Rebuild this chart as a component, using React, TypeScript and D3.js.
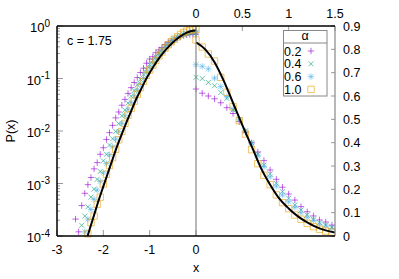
import * as d3 from 'd3';

// bin centres (left panel: x<0 on log axis, right panel: x>0 on linear axis)
const xLeft = [0, -0.067, -0.133, -0.2, -0.267, -0.333, -0.4, -0.467, -0.533, -0.6, -0.667, -0.733, -0.8, -0.867, -0.933, -1.0, -1.067, -1.133, -1.2, -1.267, -1.333, -1.4, -1.467, -1.533, -1.6, -1.667, -1.733, -1.8, -1.867, -1.933, -2.0, -2.067, -2.133, -2.2, -2.267, -2.333, -2.4, -2.467, -2.533, -2.6];
const xRight = [0, 0.067, 0.133, 0.2, 0.267, 0.333, 0.4, 0.467, 0.533, 0.6, 0.667, 0.733, 0.8, 0.867, 0.933, 1.0, 1.067, 1.133, 1.2, 1.267, 1.333, 1.4, 1.467];

// alpha = 0.2
const purpleLeft = [0.70, 0.70, 0.69, 0.68, 0.66, 0.63, 0.60, 0.56, 0.52, 0.48, 0.44, 0.39, 0.35, 0.31, 0.26, 0.235, 0.195, 0.157, 0.13, 0.104, 0.084, 0.067, 0.052, 0.040, 0.031, 0.023, 0.0178, 0.0128, 0.0093, 0.0069, 0.0048, 0.0036, 0.0025, 0.0019, 0.0013, 0.00095, 0.00065, 0.00038, 0.00012, 0.00021];
const purpleRight = [0.63, 0.612, 0.60, 0.588, 0.571, 0.55, 0.525, 0.49, 0.445, 0.40, 0.36, 0.323, 0.283, 0.243, 0.209, 0.18, 0.154, 0.126, 0.104, 0.086, 0.069, 0.06, 0.047];
// alpha = 0.4
const greenLeft = [0.74, 0.74, 0.73, 0.71, 0.68, 0.66, 0.62, 0.57, 0.52, 0.46, 0.41, 0.357, 0.305, 0.26, 0.22, 0.185, 0.15, 0.12, 0.096, 0.076, 0.059, 0.046, 0.034, 0.025, 0.0195, 0.0138, 0.0098, 0.0071, 0.0054, 0.0036, 0.0027, 0.0017, 0.0012, 0.00078, 0.00055, 0.00036, 0.00024, 0.00016, null, null];
const greenRight = [0.68, 0.675, 0.658, 0.644, 0.615, 0.59, 0.54, 0.50, 0.45, 0.40, 0.351, 0.304, 0.266, 0.226, 0.19, 0.162, 0.133, 0.111, 0.09, 0.072, 0.057, 0.047, 0.037];
// alpha = 0.6
const blueLeft = [0.77, 0.77, 0.76, 0.74, 0.70, 0.65, 0.61, 0.55, 0.49, 0.435, 0.38, 0.33, 0.28, 0.235, 0.195, 0.16, 0.13, 0.10, 0.079, 0.061, 0.047, 0.035, 0.026, 0.0195, 0.014, 0.0098, 0.0070, 0.0050, 0.0035, 0.0024, 0.0016, 0.0011, 0.00075, 0.0005, 0.00032, 0.00021, 0.00012, null, null, null];
const blueRight = [0.734, 0.727, 0.716, 0.677, 0.64, 0.597, 0.545, 0.50, 0.45, 0.395, 0.343, 0.297, 0.254, 0.214, 0.176, 0.147, 0.123, 0.10, 0.08, 0.066, 0.051, 0.043, 0.033];
// alpha = 1.0
const orangeLeft = [0.86, 0.85, 0.83, 0.80, 0.75, 0.69, 0.62, 0.56, 0.50, 0.44, 0.38, 0.32, 0.27, 0.22, 0.18, 0.145, 0.115, 0.088, 0.067, 0.05, 0.037, 0.027, 0.02, 0.014, 0.0098, 0.0068, 0.0045, 0.0031, 0.0022, 0.0015, 0.00098, 0.00055, 0.0004, 0.00024, 0.00018, 0.00011, null, null, null, null];
const orangeRight = [0.84, 0.81, 0.78, 0.75, 0.68, 0.616, 0.554, 0.494, 0.437, 0.37, 0.31, 0.26, 0.22, 0.176, 0.143, 0.117, 0.09, 0.072, 0.054, 0.04, 0.029, 0.021, 0.017];

// theory curve
const curveLeftX = [-2.45, -2.4, -2.3, -2.2, -2.1, -2.0, -1.9, -1.8, -1.7, -1.6, -1.5, -1.4, -1.3, -1.2, -1.1, -1.0, -0.9, -0.8, -0.7, -0.6, -0.5, -0.4, -0.3, -0.2, -0.1, 0];
const curveLeftP = [4.6e-5, 6.6e-5, 1.3e-4, 2.5e-4, 4.8e-4, 8.8e-4, 1.6e-3, 2.9e-3, 5.2e-3, 8.8e-3, 0.0147, 0.024, 0.039, 0.059, 0.089, 0.128, 0.179, 0.242, 0.315, 0.395, 0.485, 0.578, 0.667, 0.745, 0.80, 0.83];
const curveRightX = [0, 0.1, 0.2, 0.3, 0.4, 0.5, 0.6, 0.7, 0.8, 0.9, 1.0, 1.1, 1.2, 1.3, 1.4, 1.5];
const curveRightP = [0.83, 0.80, 0.745, 0.665, 0.57, 0.475, 0.385, 0.292, 0.22, 0.16, 0.118, 0.084, 0.058, 0.038, 0.024, 0.015];

const alphaLabels = ['0.2', '0.4', '0.6', '1.0'];
const colors = ['#9400d3', '#009e73', '#56b4e9', '#e69f00'];
const markerKinds = ['plus', 'cross', 'star', 'square'];
const leftSeries = [purpleLeft, greenLeft, blueLeft, orangeLeft];
const rightSeries = [purpleRight, greenRight, blueRight, orangeRight];

const logTicks = [1e-4, 1e-3, 1e-2, 1e-1, 1];
const logExp = ['-4', '-3', '-2', '-1', '0'];
const linTicks = [0, 0.1, 0.2, 0.3, 0.4, 0.5, 0.6, 0.7, 0.8, 0.9];
const bottomTicks = [-3, -2, -1, 0];
const topTicks = [0, 0.5, 1, 1.5];

const W = 399;
const H = 279;
const left = 57;
const mid = 196;
const right = 335;
const top = 26;
const bottom = 236;
const font = "'Liberation Sans', Arial, sans-serif";

function Marker({ kind, x, y, color }: { kind: string; x: number; y: number; color: string }) {
  const s = 3.2;
  const c = 2.5;
  let d = '';
  if (kind === 'plus') d = `M${x - s},${y}H${x + s}M${x},${y - s}V${y + s}`;
  if (kind === 'cross') d = `M${x - c},${y - c}L${x + c},${y + c}M${x - c},${y + c}L${x + c},${y - c}`;
  if (kind === 'star')
    d = `M${x - s},${y}H${x + s}M${x},${y - s}V${y + s}M${x - c},${y - c}L${x + c},${y + c}M${x - c},${y + c}L${x + c},${y - c}`;
  if (kind === 'square') d = `M${x - 3.2},${y - 3.2}h6.4v6.4h-6.4Z`;
  return <path d={d} fill="none" stroke={color} strokeOpacity={0.6} strokeWidth={1} />;
}

export default function App() {
  const xL = d3.scaleLinear().domain([-3, 0]).range([left, mid]);
  const xR = d3.scaleLinear().domain([0, 1.5]).range([mid, right]);
  const yL = d3.scaleLog().domain([1e-4, 1]).range([bottom, top]);
  const yR = d3.scaleLinear().domain([0, 0.9]).range([bottom, top]);

  const lineL = d3
    .line<number>()
    .x((d, i) => xL(curveLeftX[i]))
    .y((d) => yL(d))
    .curve(d3.curveMonotoneX);
  const lineR = d3
    .line<number>()
    .x((d, i) => xR(curveRightX[i]))
    .y((d) => yR(d))
    .curve(d3.curveMonotoneX);

  // minor ticks 2..9 in each decade
  const minor: number[] = [];
  logTicks.slice(0, 4).forEach((t) => {
    for (let m = 2; m <= 9; m++) minor.push(t * m);
  });

  const tickColor = '#999';

  return (
    <svg width={W} height={H} style={{ position: 'absolute', left: 0, top: 0, background: '#fff' }} fontFamily={font}>
      <defs>
        <clipPath id="clipL">
          <rect x={left} y={top} width={mid - left} height={bottom - top} />
        </clipPath>
        <clipPath id="clipR">
          <rect x={mid} y={top} width={right - mid} height={bottom - top} />
        </clipPath>
      </defs>

      {/* ticks */}
      {logTicks.map((t) => (
        <line key={'lt' + t} x1={left} x2={left + 6} y1={yL(t)} y2={yL(t)} stroke={tickColor} />
      ))}
      {minor.map((t) => (
        <line key={'mt' + t} x1={left} x2={left + 3} y1={yL(t)} y2={yL(t)} stroke={tickColor} />
      ))}
      {linTicks.map((t) => (
        <line key={'rt' + t} x1={right - 4} x2={right} y1={yR(t)} y2={yR(t)} stroke={tickColor} />
      ))}
      {bottomTicks.map((t) => (
        <line key={'bt' + t} x1={xL(t)} x2={xL(t)} y1={bottom} y2={bottom - 6} stroke={tickColor} />
      ))}
      {topTicks.map((t) => (
        <line key={'tt' + t} x1={xR(t)} x2={xR(t)} y1={top} y2={top + 5} stroke={tickColor} />
      ))}

      {/* data points */}
      {leftSeries.map((s, si) =>
        s.map((v, i) =>
          v == null || v < 1e-4 ? null : (
            <Marker key={`l${si}-${i}`} kind={markerKinds[si]} x={xL(xLeft[i])} y={yL(v)} color={colors[si]} />
          )
        )
      )}
      {rightSeries.map((s, si) =>
        s.map((v, i) => (
          <Marker key={`r${si}-${i}`} kind={markerKinds[si]} x={xR(xRight[i])} y={yR(v)} color={colors[si]} />
        ))
      )}

      {/* theory */}
      <path d={lineL(curveLeftP) || ''} fill="none" stroke="#000" strokeWidth={2} clipPath="url(#clipL)" />
      <path d={lineR(curveRightP) || ''} fill="none" stroke="#000" strokeWidth={2} clipPath="url(#clipR)" />

      {/* frame */}
      <line x1={mid} x2={mid} y1={top} y2={bottom} stroke="#888" strokeWidth={1.2} />
      <line x1={right} x2={right} y1={top} y2={bottom} stroke="#888" strokeWidth={1.2} />
      <line x1={left} x2={left} y1={top} y2={bottom} stroke="#000" strokeWidth={1.5} />
      <line x1={left} x2={right} y1={top} y2={top} stroke="#000" strokeWidth={1.5} />
      <line x1={left} x2={right} y1={bottom} y2={bottom} stroke="#000" strokeWidth={1.5} />

      {/* tick labels */}
      {logTicks.map((t, i) => (
        <text key={'ll' + t} x={50} y={yL(t) + 6} textAnchor="end" fontSize={13}>
          <tspan>10</tspan>
          <tspan dy={-5.5} fontSize={10}>
            {logExp[i]}
          </tspan>
        </text>
      ))}
      {linTicks.map((t) => (
        <text key={'rl' + t} x={343} y={yR(t) + 4.5} fontSize={12.5}>
          {t === 0 ? '0' : t.toFixed(1)}
        </text>
      ))}
      {bottomTicks.map((t) => (
        <text key={'bl' + t} x={xL(t)} y={254} textAnchor="middle" fontSize={12.5}>
          {t}
        </text>
      ))}
      {topTicks.map((t) => (
        <text key={'tl' + t} x={xR(t)} y={17.5} textAnchor="middle" fontSize={12.5}>
          {t}
        </text>
      ))}

      {/* axis titles */}
      <text x={196} y={272} textAnchor="middle" fontSize={12.5}>
        x
      </text>
      <text transform="translate(15,131) rotate(-90)" textAnchor="middle" fontSize={12.5}>
        P(x)
      </text>
      <text x={67} y={45} fontSize={12.5}>
        c = 1.75
      </text>

      {/* legend */}
      <rect x={283.5} y={30.5} width={43.5} height={65.5} fill="#fff" stroke="#888" />
      <line x1={283.5} x2={327} y1={43} y2={43} stroke="#888" />
      <text x={305} y={40} textAnchor="middle" fontSize={12.5}>
        α
      </text>
      {alphaLabels.map((a, i) => (
        <g key={'lg' + a}>
          <text x={284} y={55.5 + i * 12.8} fontSize={12.5}>
            {a}
          </text>
          <Marker kind={markerKinds[i]} x={311} y={51 + i * 12.8} color={colors[i]} />
        </g>
      ))}
    </svg>
  );
}
